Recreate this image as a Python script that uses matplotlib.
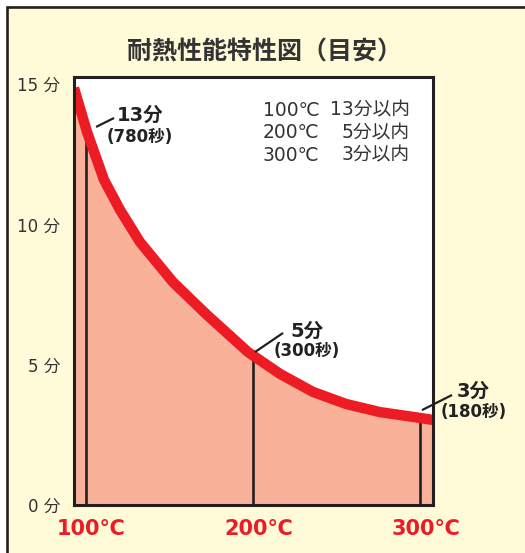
import matplotlib
matplotlib.use("Agg")
import matplotlib.pyplot as plt
import matplotlib.patches as mpatches
import matplotlib.transforms as mtransforms
import numpy as np

plt.rcParams['font.family'] = ['DejaVu Sans', 'Noto Sans CJK JP']
CJK = ['Noto Sans CJK JP', 'DejaVu Sans']
NUM = ['DejaVu Sans', 'Noto Sans CJK JP']

# ---- data ----
title = "耐熱性能特性図（目安）"
curve_temp = [92.8, 100.6, 110.8, 120.4, 132.3, 152.1, 172.5, 197.0, 216.2, 235.9, 255.7, 276.0, 295.8, 307.8]
curve_min = [14.86, 13.29, 11.58, 10.51, 9.37, 7.94, 6.77, 5.45, 4.67, 4.03, 3.60, 3.31, 3.14, 3.03]
mark_temp = [100, 200, 300]
mark_top = [13.3, 5.33, 3.11]
mark_labels = ["13分", "5分", "3分"]
mark_sec = ["(780秒)", "(300秒)", "(180秒)"]
y_ticks = [0, 5, 10, 15]
y_ticklabels = ["0 分", "5 分", "10 分", "15 分"]
x_ticks = [100, 200, 300]
x_ticklabels = ["100℃", "200℃", "300℃"]
legend_temp = ["100℃", "200℃", "300℃"]
legend_time = ["13分以内", "5分以内", "3分以内"]

CREAM = "#FFFAD8"
DARK = "#231F20"
RED = "#ED1C24"
SALMON = "#F9B19A"

W, H = 525, 553
fig = plt.figure(figsize=(W / 100, H / 100), dpi=100)
fig.patch.set_facecolor("white")
fig.patches.append(mpatches.Rectangle((7 / W, -0.1), 1.2, 1.1 - 7 / H,
                                      transform=fig.transFigure, facecolor=CREAM,
                                      edgecolor=DARK, linewidth=1.9, zorder=-5))

ax = fig.add_axes([74 / W, 1 - 505 / H, (433 - 74) / W, (505 - 77) / H], zorder=2)
ax.set_facecolor("white")
ax.set_xlim(92.8, 307.8)
ax.set_ylim(0, 15.25)

ax.fill_between(curve_temp, curve_min, 0, color=SALMON, linewidth=0, zorder=1)
ax.vlines(mark_temp, 0, mark_top, color=DARK, linewidth=1.9, zorder=2)
ax.plot(curve_temp, curve_min, color=RED, linewidth=7.5, solid_capstyle='butt',
        solid_joinstyle='round', zorder=3)

for sp in ax.spines.values():
    sp.set_color(DARK)
    sp.set_linewidth(2.2)
    sp.set_zorder(5)

ax.set_yticks(y_ticks)
ax.set_yticklabels(y_ticklabels, fontsize=12, color="#333333", family=NUM)
ax.set_xticks(x_ticks)
ax.set_xticklabels(x_ticklabels, fontsize=15, color=RED, fontweight='bold', family=NUM)
ax.tick_params(axis='both', length=0)
ax.tick_params(axis='y', pad=10)
ax.tick_params(axis='x', pad=10)
off = mtransforms.ScaledTranslation(5.5 / 100, 0, fig.dpi_scale_trans)
for lab in ax.get_xticklabels():
    lab.set_transform(lab.get_transform() + off)

# title
fig.text(264 / W, 1 - 53 / H, title, ha='center', va='center', fontsize=18,
         fontweight='bold', color="#333333", family=CJK)

# annotations
ann_pos = [(132.3, 13.9, 13.12), (232.3, 6.2, 5.49), (332.0, 4.06, 3.31)]
lead = [((106, 116.8), (13.47, 13.79)), ((201.2, 218), (5.45, 6.13)), ((301.2, 319.2), (3.38, 3.92))]
for (tx, y1, y2), lab, sec, (lx, ly) in zip(ann_pos, mark_labels, mark_sec, lead):
    ax.text(tx, y1, lab, ha='center', va='center', fontsize=14, fontweight='bold',
            color="#222222", clip_on=False, zorder=6, family=NUM)
    ax.text(tx, y2, sec, ha='center', va='center', fontsize=12, fontweight='bold',
            color="#222222", clip_on=False, zorder=6, family=NUM)
    ax.plot(lx, ly, color=DARK, linewidth=1.6, clip_on=False, zorder=6, solid_capstyle='butt')

# legend text
for i, (lt, lm) in enumerate(zip(legend_temp, legend_time)):
    y = 1 - (110 + 22.7 * i) / H
    fig.text(263 / W, y, lt, ha='left', va='center', fontsize=13.5, color="#333333", family=NUM)
    fig.text(410 / W, y, lm, ha='right', va='center', fontsize=13.5, color="#333333", family=NUM)

fig.savefig("out.png", dpi=100, facecolor=fig.get_facecolor())
